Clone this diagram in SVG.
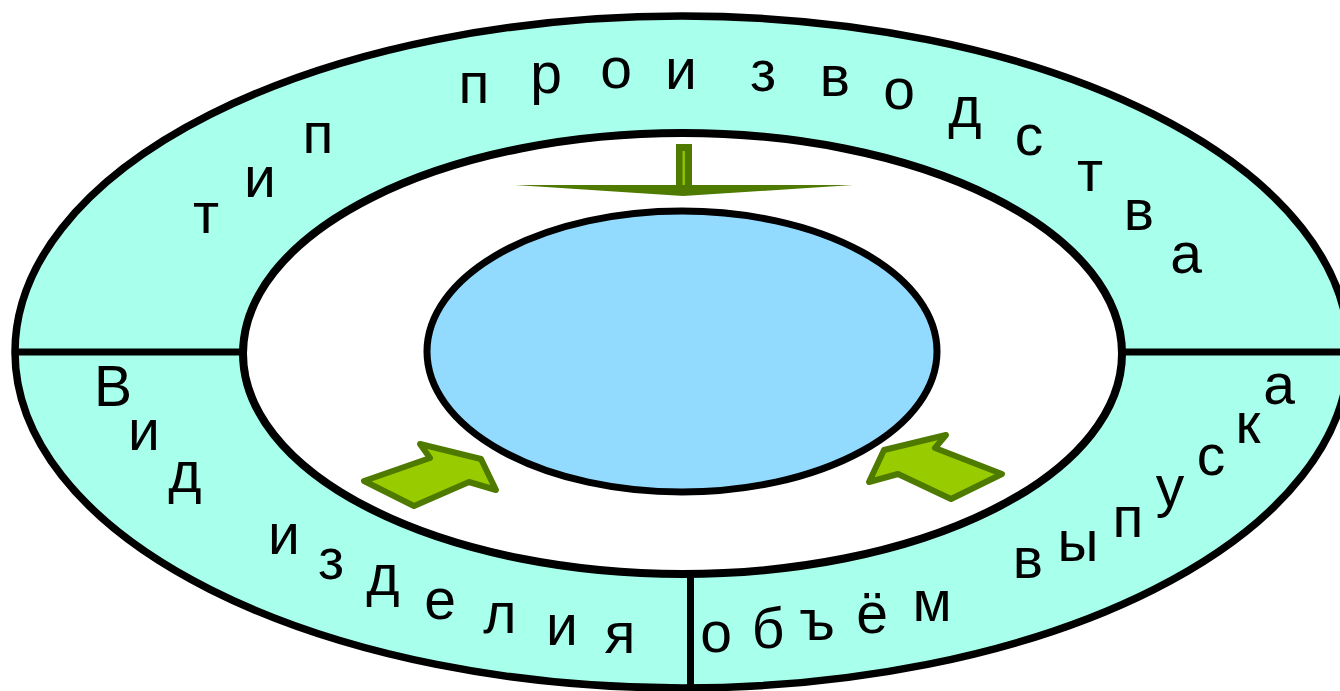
<svg xmlns="http://www.w3.org/2000/svg" width="1340" height="691" viewBox="0 0 1340 691">
  <style>
    .ring { fill: #a8ffec; stroke: #000; stroke-width: 7.5; }
    .gap { fill: #ffffff; stroke: #000; stroke-width: 8; }
    .core { fill: #93daff; stroke: #000; stroke-width: 7; }
    .divider { stroke: #000; stroke-width: 7; fill: none; }
    .arrow { fill: #99cc00; stroke: #4f7a00; stroke-width: 6; stroke-linejoin: round; }
    .label { font-family: "Liberation Sans", Arial, sans-serif; font-size: 57px; fill: #000; text-anchor: middle; }
  </style>

  <rect width="1340" height="691" fill="#ffffff"/>

  <!-- concentric rings -->
  <g id="outer-ring">
    <ellipse class="ring" cx="682" cy="352" rx="667" ry="336"/>
  </g>
  <g id="middle-ring">
    <ellipse class="gap" cx="682.5" cy="353.5" rx="439.5" ry="220.5"/>
  </g>
  <g id="core">
    <ellipse class="core" cx="682" cy="351.5" rx="255" ry="140.5"/>
  </g>

  <!-- section dividers of the outer ring -->
  <g id="dividers">
    <line class="divider" x1="16" y1="352" x2="243" y2="352"/>
    <line class="divider" x1="1122" y1="352" x2="1345" y2="352"/>
    <line class="divider" x1="690.5" y1="574" x2="690.5" y2="695"/>
  </g>

  <!-- ring labels, one glyph per position -->
  <g id="label-type">
    <text class="label" x="206 260 318" y="233 197 153">тип</text>
    <text class="label" x="474 546 616 681 763 835 899 965 1029 1090 1139 1186" y="103 93 88 89 91 96 109 127 155 191 230 273">производства</text>
  </g>
  <g id="label-kind">
    <text class="label" x="113 144 185" y="406 450 492">Вид</text>
    <text class="label" x="284 331 383 440 500 562 620" y="554 579 595 619 633 645 653">изделия</text>
  </g>
  <g id="label-volume">
    <text class="label" x="716 768 817 872 932" y="652 648 640 633 621">объём</text>
    <text class="label" x="1028 1078 1128 1170 1211 1248 1279" y="578 561 537 506 475 443 404">выпуска</text>
  </g>

  <!-- arrows pointing at the core -->
  <g id="connectors">
    <g id="arrow-top">
      <rect x="676" y="144" width="16" height="43" fill="#4f7a00"/>
      <rect x="682.5" y="151" width="2.5" height="36" fill="#8fc000"/>
      <polygon points="515,185 853,185 683,196" fill="#4f7a00"/>
    </g>
    <polygon id="arrow-left" class="arrow" points="364,481 414,506 469,482 496,490 481,459 420,444 430,458"/>
    <polygon id="arrow-right" class="arrow" points="869,482 884,450 946,435 935,448 1002,474 951,499 898,474"/>
  </g>
</svg>
